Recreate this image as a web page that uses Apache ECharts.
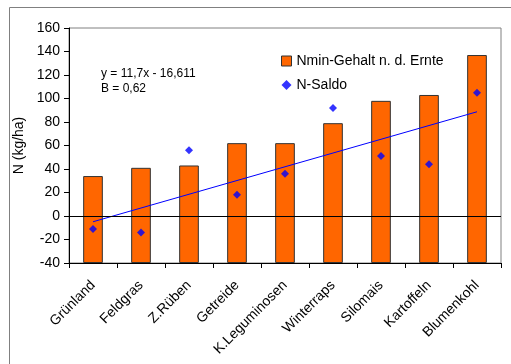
<!DOCTYPE html>
<html><head><meta charset="utf-8">
<script src="https://cdn.jsdelivr.net/npm/echarts@6/dist/echarts.min.js"></script>
<style>html,body{margin:0;padding:0;background:#fff}#c{width:511px;height:364px}</style>
</head><body><div id="c"></div>
<script>
var categories = ['Grünland','Feldgras','Z.Rüben','Getreide','K.Leguminosen','Winterraps','Silomais','Kartoffeln','Blumenkohl'];
var nminValues = [34, 41, 43, 62, 62, 79, 98, 103, 137];
var nSaldoValues = [-11, -14, 56, 18, 36, 92, 51, 44, 105];
var trendValues = [-4.9, null, null, null, null, null, null, null, 88.7];
var yTicks = {min: -40, max: 160, interval: 20};
var F = 'Liberation Sans, Arial, sans-serif';

var chart = echarts.init(document.getElementById('c'), null, {renderer: 'canvas'});
chart.setOption({
  animation: false,
  backgroundColor: '#fff',
  grid: {left: 69, right: 10, top: 28, bottom: 101, show: true, borderColor: '#808080', borderWidth: 1},
  graphic: [
    {type: 'line', shape: {x1: 9.5, y1: 7.5, x2: 511, y2: 7.5}, style: {stroke: '#808080', lineWidth: 1}},
    {type: 'line', shape: {x1: 9.5, y1: 7.5, x2: 9.5, y2: 364}, style: {stroke: '#808080', lineWidth: 1}},
    {type: 'text', left: 101, top: 66, style: {text: 'y = 11,7x - 16,611\nB = 0,62', font: '12px ' + F, fill: '#000', lineHeight: 15}}
  ],
  legend: {
    left: 276, top: 49, orient: 'vertical', itemGap: 10, itemWidth: 10, itemHeight: 10,
    textStyle: {fontFamily: F, fontSize: 14, color: '#000'},
    data: [
      {name: 'Nmin-Gehalt n. d. Ernte', icon: 'rect', itemStyle: {borderColor: '#333', borderWidth: 1}},
      {name: 'N-Saldo', icon: 'diamond'}
    ]
  },
  xAxis: {
    type: 'category', data: categories,
    axisLine: {onZero: false, lineStyle: {color: '#000'}},
    axisTick: {show: true, length: 5, lineStyle: {color: '#000'}},
    axisLabel: {rotate: 45, fontFamily: F, fontSize: 14, color: '#000', margin: 20, interval: 0}
  },
  yAxis: {
    type: 'value', min: yTicks.min, max: yTicks.max, interval: yTicks.interval, startValue: yTicks.min,
    name: 'N (kg/ha)', nameLocation: 'middle', nameGap: 32,
    nameTextStyle: {fontFamily: F, fontSize: 14, color: '#000'},
    axisLine: {show: true, lineStyle: {color: '#000'}},
    axisTick: {show: true, length: 5, lineStyle: {color: '#000'}},
    axisLabel: {fontFamily: F, fontSize: 14, color: '#000', margin: 9},
    splitLine: {show: false}
  },
  series: [
    {
      name: 'Nmin-Gehalt n. d. Ernte', type: 'bar', data: nminValues, barWidth: '41%',
      itemStyle: {color: '#FF6600', borderColor: '#333', borderWidth: 1},
      markLine: {silent: true, symbol: 'none', label: {show: false},
        lineStyle: {color: '#000', type: 'solid', width: 1}, data: [{yAxis: 0}]}
    },
    {
      name: 'N-Saldo', type: 'scatter', data: nSaldoValues, symbol: 'diamond', symbolSize: 8,
      itemStyle: {color: '#0000FF'}, z: 5
    },
    {
      name: 'Trend', type: 'line', data: trendValues, connectNulls: true, showSymbol: false,
      lineStyle: {color: '#0000FF', width: 1}, z: 4
    }
  ]
});
</script></body></html>
